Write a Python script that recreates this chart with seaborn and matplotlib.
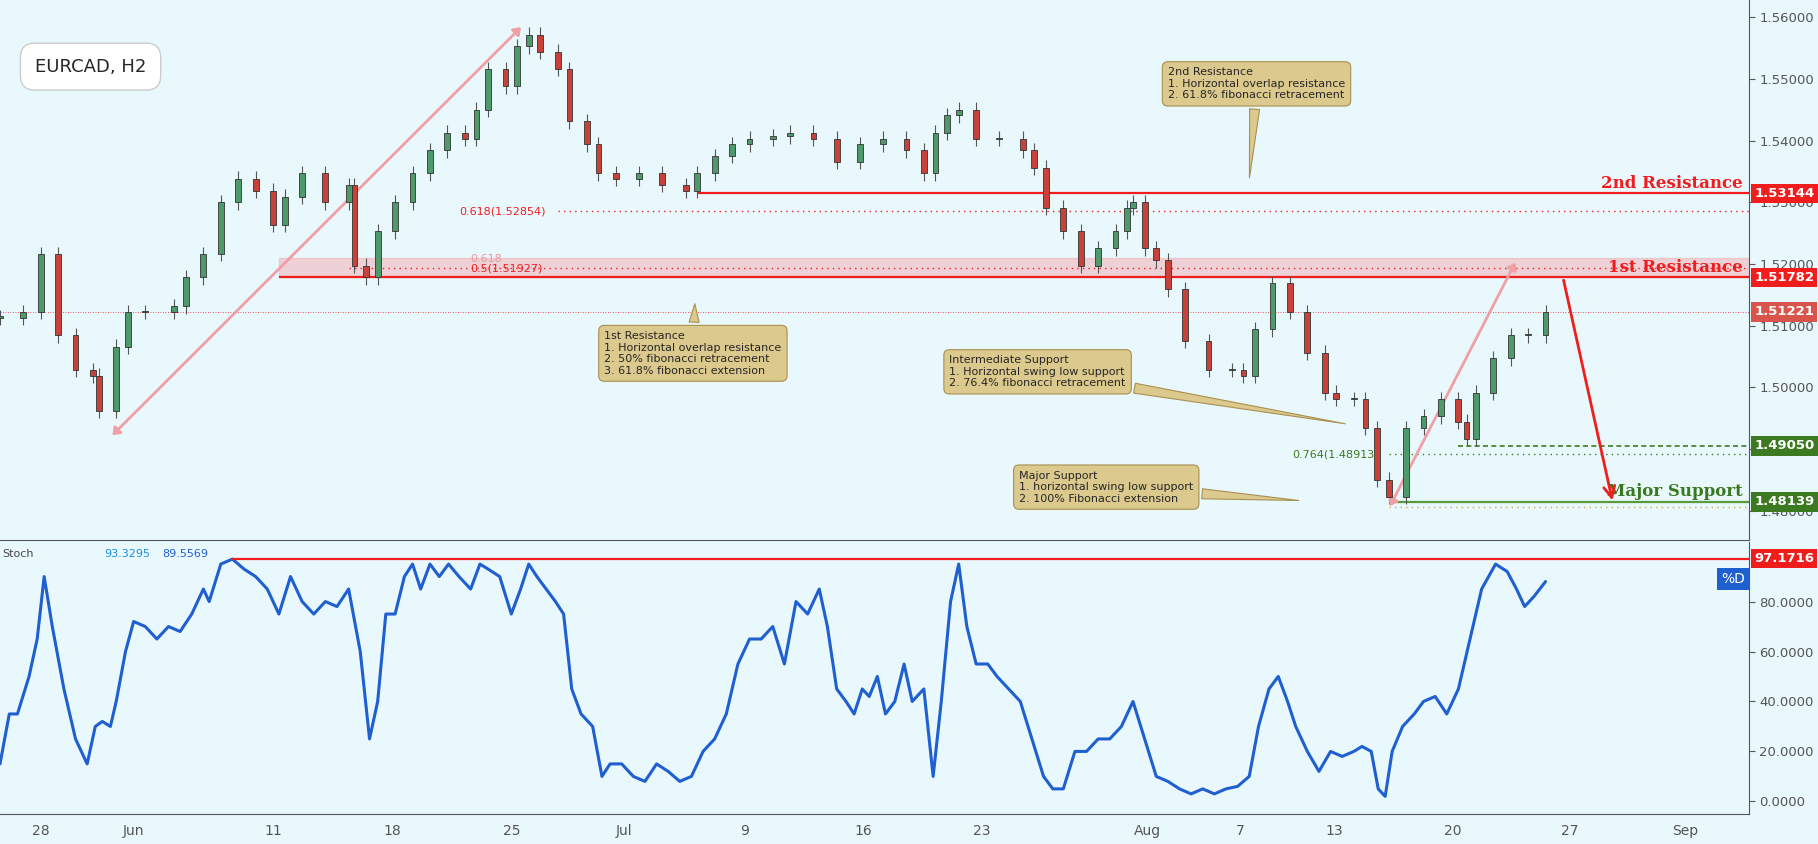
import numpy as np
import pandas as pd
import matplotlib
matplotlib.use("Agg")
import matplotlib.pyplot as plt
import seaborn as sns

# chart position (session units) and closes
pos = [0, 20, 35, 50, 65, 80, 85, 100, 110, 125,
       150, 160, 175, 190, 205, 220, 235, 245, 260, 280,
       300, 305, 315, 325, 340, 355, 370, 385, 400, 410,
       420, 435, 445, 455, 465, 480, 490, 505, 515, 530,
       550, 570, 590, 600, 615, 630, 645, 665, 680, 700,
       720, 740, 760, 780, 795, 805, 815, 825, 840, 860,
       880, 890, 900, 915, 930, 945, 960, 970, 975, 985,
       995, 1005, 1020, 1040, 1060, 1070, 1080, 1095, 1110, 1125,
       1140, 1150, 1165, 1175, 1185, 1195, 1210, 1225, 1240, 1255,
       1262, 1270, 1285, 1300, 1315, 1330]
close = [1.5113, 1.5122, 1.5216, 1.5084, 1.5028, 1.5019, 1.4962, 1.5066, 1.5122, 1.5122,
         1.5131, 1.5178, 1.5216, 1.5300, 1.5338, 1.5319, 1.5263, 1.5309, 1.5347, 1.5300,
         1.5328, 1.5197, 1.5178, 1.5253, 1.5300, 1.5347, 1.5384, 1.5413, 1.5403, 1.5450,
         1.5516, 1.5488, 1.5553, 1.5572, 1.5544, 1.5516, 1.5431, 1.5394, 1.5347, 1.5338,
         1.5347, 1.5328, 1.5319, 1.5347, 1.5375, 1.5394, 1.5403, 1.5407, 1.5413, 1.5403,
         1.5366, 1.5394, 1.5403, 1.5384, 1.5347, 1.5413, 1.5441, 1.5450, 1.5403, 1.5403,
         1.5384, 1.5356, 1.5291, 1.5253, 1.5197, 1.5225, 1.5253, 1.5291, 1.5300, 1.5225,
         1.5206, 1.5159, 1.5075, 1.5028, 1.5028, 1.5019, 1.5094, 1.5169, 1.5122, 1.5056,
         1.4991, 1.4981, 1.4981, 1.4934, 1.4850, 1.4822, 1.4934, 1.4953, 1.4981, 1.4944,
         1.4916, 1.4991, 1.5047, 1.5084, 1.5084, 1.5122]

stoch_pos = [0, 8, 15, 25, 32, 38, 45, 55, 65, 75, 82, 88, 95, 100, 108, 115, 125, 135, 145, 155,
             165, 175, 180, 190, 200, 210, 220, 230, 240, 250, 260, 270, 280, 290, 300, 310, 318, 325,
             332, 340, 348, 355, 362, 370, 378, 386, 395, 405, 413, 420, 430, 440, 448, 455, 462, 470,
             478, 485, 492, 500, 510, 518, 525, 535, 545, 555, 565, 575, 585, 595, 605, 615, 625, 635,
             645, 655, 665, 675, 685, 695, 705, 712, 720, 728, 735, 742, 748, 755, 762, 770, 778, 785,
             795, 803, 810, 818, 825, 832, 840, 850, 858, 868, 878, 888, 898, 906, 915, 925, 935, 945,
             955, 965, 975, 985, 995, 1005, 1015, 1025, 1035, 1045, 1055, 1065, 1075, 1083, 1092, 1100,
             1108, 1115, 1125, 1135, 1145, 1155, 1165, 1172, 1180, 1186, 1192, 1198, 1207, 1217, 1225,
             1235, 1245, 1255, 1265, 1275, 1287, 1297, 1305, 1312, 1320, 1330]
stoch_d = [15, 35, 35, 50, 65, 90, 70, 45, 25, 15, 30, 32, 30, 40, 60, 72, 70, 65, 70, 68,
           75, 85, 80, 95, 97, 93, 90, 85, 75, 90, 80, 75, 80, 78, 85, 60, 25, 40,
           75, 75, 90, 95, 85, 95, 90, 95, 90, 85, 95, 93, 90, 75, 85, 95, 90, 85,
           80, 75, 45, 35, 30, 10, 15, 15, 10, 8, 15, 12, 8, 10, 20, 25, 35, 55,
           65, 65, 70, 55, 80, 75, 85, 70, 45, 40, 35, 45, 42, 50, 35, 40, 55, 40,
           45, 10, 40, 80, 95, 70, 55, 55, 50, 45, 40, 25, 10, 5, 5, 20, 20, 25,
           25, 30, 40, 25, 10, 8, 5, 3, 5, 3, 5, 6, 10, 30, 45, 50,
           40, 30, 20, 12, 20, 18, 20, 22, 20, 5, 2, 20, 30, 35, 40,
           42, 35, 45, 65, 85, 95, 92, 85, 78, 82, 88]

tick_pos = [35, 115, 235, 338, 440, 537, 641, 743, 845, 987, 1067, 1148, 1250, 1351, 1450]
tick_lab = ["28", "Jun", "11", "18", "25", "Jul", "9", "16", "23", "Aug", "7", "13", "20", "27", "Sep"]
price_ticks = [1.48, 1.49, 1.50, 1.51, 1.52, 1.53, 1.54, 1.55, 1.56]
stoch_ticks = [0, 20, 40, 60, 80]

res2, res1, last, sup_int, fib764, sup_major = 1.53144, 1.51782, 1.51221, 1.49050, 1.48913, 1.48139
fib618, fib50 = 1.52854, 1.51927
stoch_high = 97.1716

BG = "#e9f8fd"
RED = "#f01d1d"
GREEN = "#3a7a1e"
TAN = "#dcc98d"

sns.set_style("white", {"axes.facecolor": BG, "figure.facecolor": BG})
fig = plt.figure(figsize=(18.18, 8.44), dpi=100)
ax = fig.add_axes([0.0, 0.360, 0.962, 0.640])
ax2 = fig.add_axes([0.0, 0.036, 0.962, 0.322], sharex=ax)

# candles
opens = [close[0]] + close[:-1]
width = 5
for x, o, c in zip(pos, opens, close):
    up = c >= o
    col = "#4f9a6b" if up else "#c8423a"
    lo, hi = min(o, c), max(o, c)
    ax.vlines(x, lo - 0.0012, hi + 0.0012, color="#555555", lw=0.8, zorder=3)
    ax.bar(x, max(hi - lo, 0.0002), bottom=lo, width=width, color=col,
           edgecolor="#333333", lw=0.6, zorder=4)

# levels
ax.axhspan(1.5178, 1.5210, xmin=240 / 1505, color="#f2a3a8", alpha=0.45, zorder=1)
ax.hlines(res2, 600, 1505, color=RED, lw=1.6, zorder=2)
ax.hlines(res1, 240, 1505, color=RED, lw=1.6, zorder=2)
ax.hlines(fib618, 480, 1505, color=RED, lw=1, ls=(0, (1, 3)), zorder=2)
ax.hlines(fib50, 300, 1505, color=RED, lw=1, ls=(0, (1, 3)), zorder=2)
ax.hlines(last, 0, 1505, color=RED, lw=0.6, ls=(0, (1, 2)), zorder=2)
ax.hlines(sup_int, 1255, 1505, color=GREEN, lw=1.2, ls=(0, (3, 2)), zorder=2)
ax.hlines(fib764, 1195, 1505, color=GREEN, lw=1, ls=(0, (1, 3)), zorder=2)
ax.hlines(sup_major, 1195, 1505, color="#5a9a3a", lw=1.6, zorder=2)
ax.hlines(1.4805, 1195, 1505, color="#d4b040", lw=1, ls=(0, (1, 3)), zorder=2)
ax.text(395, fib618, "0.618(1.52854)", color=RED, fontsize=8, va="center")
ax.text(405, fib50, "0.5(1.51927)", color=RED, fontsize=8, va="center")
ax.text(405, 1.5208, "0.618", color="#e89a9a", fontsize=8, va="center")
ax.text(1112, fib764, "0.764(1.48913)", color=GREEN, fontsize=8, va="center")
for y, s, c in [(res2, "2nd Resistance", RED), (res1, "1st Resistance", RED),
                (sup_major, "Major Support", GREEN)]:
    ax.text(1500, y + 0.0003, s, color=c, fontsize=12, fontweight="bold",
            family="DejaVu Serif", ha="right", va="bottom")

# arrows
pink = "#f0a0a5"
ax.annotate("", xy=(450, 1.5587), xytext=(95, 1.4919),
            arrowprops=dict(arrowstyle="<|-|>,head_width=0.3", color=pink, lw=2))
ax.annotate("", xy=(1305, 1.5206), xytext=(1195, 1.4803),
            arrowprops=dict(arrowstyle="<|-|>,head_width=0.3", color=pink, lw=2))
ax.annotate("", xy=(1388, 1.4812), xytext=(1345, 1.5178),
            arrowprops=dict(arrowstyle="->,head_width=0.4,head_length=0.8", color=RED, lw=2))

# callouts
callouts = [
    (1005, 1.5492, "2nd Resistance\n1. Horizontal overlap resistance\n2. 61.8% fibonacci retracement", (1075, 1.5335)),
    (520, 1.5055, "1st Resistance\n1. Horizontal overlap resistance\n2. 50% fibonacci retracement\n3. 61.8% fibonacci extension", (598, 1.5140)),
    (817, 1.5025, "Intermediate Support\n1. Horizontal swing low support\n2. 76.4% fibonacci retracement", (1160, 1.4940)),
    (877, 1.4838, "Major Support\n1. horizontal swing low support\n2. 100% Fibonacci extension", (1120, 1.4816)),
]
for x, y, s, tgt in callouts:
    ax.annotate(s, xy=tgt, xytext=(x, y), fontsize=8, va="center", ha="left",
                bbox=dict(boxstyle="round,pad=0.5", fc=TAN, ec="#a89050", lw=0.8),
                arrowprops=dict(arrowstyle="wedge,tail_width=0.9", fc=TAN, ec="#a89050", lw=0.8),
                zorder=6)

ax.text(30, 1.5520, "EURCAD, H2", fontsize=13, va="center",
        bbox=dict(boxstyle="round,pad=0.8", fc="white", ec="#cccccc"), zorder=7)

# stochastic
df = pd.DataFrame({"pos": stoch_pos, "d": stoch_d})
sns.lineplot(data=df, x="pos", y="d", ax=ax2, color="#1f5fd0", lw=2.2)
ax2.hlines(stoch_high, 200, 1505, color=RED, lw=1.6)
ax2.text(2, 101, "Stoch", fontsize=8, color="#444444", va="top")
ax2.text(90, 101, "93.3295", fontsize=8, color="#1a8fe0", va="top")
ax2.text(140, 101, "89.5569", fontsize=8, color="#1f5fd0", va="top")

for a in (ax, ax2):
    a.set_xlim(0, 1505)
    a.yaxis.tick_right()
    a.tick_params(axis="y", labelsize=9.5, colors="#555555", length=4, direction="out")
    for sp in ["top", "left"]:
        a.spines[sp].set_visible(False)
    for sp in ["right", "bottom"]:
        a.spines[sp].set_color("#555555")
    a.set_xlabel("")
    a.set_ylabel("")

ax.set_ylim(1.4752, 1.5628)
ax.set_yticks(price_ticks)
ax.set_yticklabels([f"{v:.5f}" for v in price_ticks])
ax.tick_params(axis="x", bottom=False, labelbottom=False)
ax2.set_ylim(-4.9, 103.9)
ax2.set_yticks(stoch_ticks)
ax2.set_yticklabels([f"{v:.4f}" for v in stoch_ticks])
ax2.set_xticks(tick_pos)
ax2.set_xticklabels(tick_lab)
ax2.tick_params(axis="x", labelsize=10, colors="#555555", length=4)

tr = ax.get_yaxis_transform()
for y, s, c in [(res2, "1.53144", RED), (res1, "1.51782", RED), (last, "1.51221", "#d9544a"),
                (sup_int, "1.49050", "#3c7a22"), (sup_major, "1.48139", "#3c7a22")]:
    ax.text(1.003, y, s, transform=tr, color="white", fontsize=9.5, fontweight="bold",
            va="center", ha="left", bbox=dict(boxstyle="square,pad=0.25", fc=c, ec="none"), zorder=8)
tr2 = ax2.get_yaxis_transform()
ax2.text(1.003, stoch_high, "97.1716", transform=tr2, color="white", fontsize=9.5, fontweight="bold",
         va="center", ha="left", bbox=dict(boxstyle="square,pad=0.25", fc=RED, ec="none"), zorder=8)
ax2.text(0.998, 89, "%D", transform=tr2, color="white", fontsize=10, va="center", ha="right",
         bbox=dict(boxstyle="square,pad=0.3", fc="#1f5fd0", ec="none"))

fig.savefig("out.png", dpi=100, facecolor=BG)
